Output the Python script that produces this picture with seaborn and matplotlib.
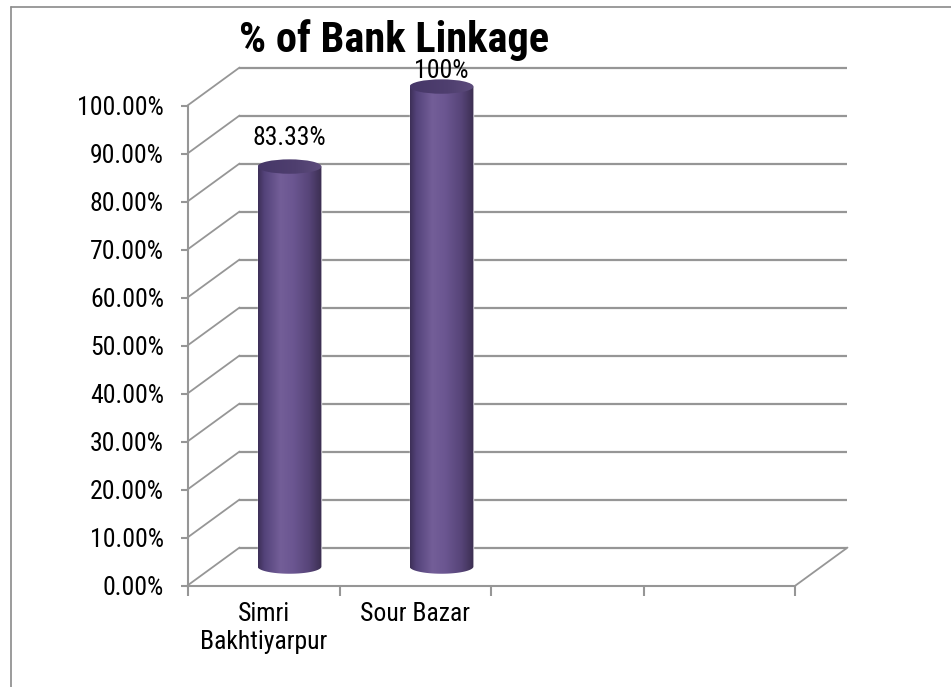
import numpy as np
import pandas as pd
import matplotlib
matplotlib.use("Agg")
import matplotlib.pyplot as plt
from matplotlib import font_manager
from matplotlib.patches import Ellipse, PathPatch
from matplotlib.path import Path
from matplotlib.lines import Line2D
from matplotlib.colors import LinearSegmentedColormap
import seaborn as sns

# ---- data -------------------------------------------------------------
categories = ["Simri\nBakhtiyarpur", "Sour Bazar"]
linkage_pct = [83.33, 100.0]
value_labels = ["83.33%", "100%"]
y_ticks = [0, 10, 20, 30, 40, 50, 60, 70, 80, 90, 100]
y_tick_labels = [f"{t:.2f}%" for t in y_ticks]
chart_title = "% of Bank Linkage"

# ---- layout / style ---------------------------------------------------
N_SLOTS = 4          # category slots on the floor
DEPTH_X = 0.342      # depth offset of the back wall, category units
DEPTH_Y = 7.9        # depth offset of the back wall, percent units
BAR_W = 0.42         # cylinder diameter, category units
CAP_H = 3.0          # cylinder cap ellipse height, percent units
GRID = "#969696"
FRAME = "#8a8a8a"
FS = 18.5

sns.set_theme(style="white")
installed = {f.name for f in font_manager.fontManager.ttflist}
narrow = next((f for f in ["Liberation Sans Narrow", "Roboto Condensed",
                           "Liberation Sans"] if f in installed), "DejaVu Sans")
plt.rcParams["font.family"] = [narrow, "DejaVu Sans"]

W, H = 951, 687
fig = plt.figure(figsize=(W / 100, H / 100), dpi=100)
fig.patch.set_facecolor("white")

# chart-area border (top and left edges visible)
fig.add_artist(Line2D([10.5 / W, 10.5 / W], [0, 1 - 7 / H], color=FRAME, lw=1.2))
fig.add_artist(Line2D([10.5 / W, 1], [1 - 7 / H, 1 - 7 / H], color=FRAME, lw=1.2))

px_cat, px_pct = 152.0, 4.8
x0_px, y0_px = 187.5, 585.5
ax = fig.add_axes([x0_px / W, (H - y0_px) / H,
                   px_cat * (N_SLOTS + DEPTH_X) / W,
                   px_pct * (100 + DEPTH_Y) / H])
ax.patch.set_alpha(0)

df = pd.DataFrame({"site": categories, "pct": linkage_pct})
sns.barplot(data=df, x="site", y="pct", order=categories, ax=ax,
            width=BAR_W, color="#6a5590", saturation=1, zorder=3)

xmin, xmax = -0.5, N_SLOTS - 0.5

# back wall gridlines and left-wall diagonals
for t in y_ticks:
    ax.plot([xmin + DEPTH_X, xmax + DEPTH_X], [t + DEPTH_Y, t + DEPTH_Y],
            color=GRID, lw=1.6, solid_capstyle="butt", zorder=1, clip_on=False)
    ax.plot([xmin, xmin + DEPTH_X], [t, t + DEPTH_Y],
            color=GRID, lw=1.3, zorder=1, clip_on=False)
# right floor edge
ax.plot([xmax, xmax + DEPTH_X], [0, DEPTH_Y], color=GRID, lw=1.3, zorder=1, clip_on=False)

body_cmap = LinearSegmentedColormap.from_list("body", [
    (0.00, "#3d2f57"), (0.10, "#54437a"), (0.35, "#735e98"),
    (0.55, "#6b5691"), (0.80, "#574579"), (0.93, "#45365f"), (1.00, "#3b2e50")])
cap_cmap = LinearSegmentedColormap.from_list("cap", [
    (0.0, "#463768"), (0.6, "#4f3f6f"), (1.0, "#5d4c7c")])
grad = np.linspace(0, 1, 256)[None, :]

for bar in list(ax.patches):
    bx, bw, bh = bar.get_x(), bar.get_width(), bar.get_height()
    # move the bar into the middle of the floor depth
    bar.set_x(bx + DEPTH_X / 2)
    bar.set_y(DEPTH_Y / 2)
    x0, x1 = bar.get_x(), bar.get_x() + bw
    xc = (x0 + x1) / 2
    y_bot, y_top = DEPTH_Y / 2, DEPTH_Y / 2 + bh
    # body outline: straight sides, rounded bottom
    th = np.linspace(np.pi, 2 * np.pi, 60)
    arc = np.column_stack([xc + bw / 2 * np.cos(th), y_bot + CAP_H / 2 * np.sin(th)])
    verts = np.vstack([[x0, y_top], arc, [x1, y_top], [x0, y_top]])
    codes = [Path.MOVETO] + [Path.LINETO] * (len(verts) - 2) + [Path.CLOSEPOLY]
    body = PathPatch(Path(verts, codes), transform=ax.transData,
                     facecolor="none", edgecolor="none")
    ax.add_patch(body)
    im = ax.imshow(grad, cmap=body_cmap, aspect="auto", zorder=4,
                   extent=[x0, x1, y_bot - CAP_H, y_top], interpolation="bilinear")
    im.set_clip_path(body)
    cap = Ellipse((xc, y_top), bw, CAP_H, facecolor="none", edgecolor="none",
                  transform=ax.transData)
    ax.add_patch(cap)
    im2 = ax.imshow(grad, cmap=cap_cmap, aspect="auto", zorder=5,
                    extent=[x0, x1, y_top - CAP_H, y_top + CAP_H], interpolation="bilinear")
    im2.set_clip_path(cap)

# value labels above each cylinder, kept inside the plot box
for bar, lab in zip(ax.patches, value_labels):
    xc = bar.get_x() + bar.get_width() / 2
    ytxt = min(bar.get_y() + bar.get_height() + 6.0, 100 + DEPTH_Y - 0.7)
    ax.text(xc, ytxt, lab, ha="center", va="center", fontsize=FS,
            color="black", zorder=6)

ax.set_xlim(xmin, xmax + DEPTH_X)
ax.set_ylim(0, 100 + DEPTH_Y)
ax.set_xlabel("")
ax.set_ylabel("")

for s in ["top", "right"]:
    ax.spines[s].set_visible(False)
ax.spines["left"].set_bounds(0, 100)
ax.spines["bottom"].set_bounds(xmin, xmax)
for s in ["left", "bottom"]:
    ax.spines[s].set_color(GRID)
    ax.spines[s].set_linewidth(1.5)
    ax.spines[s].set_zorder(2)

ax.set_yticks(y_ticks, y_tick_labels)
ax.set_xticks(np.arange(N_SLOTS + 1) - 0.5, [""] * (N_SLOTS + 1))
ax.set_xticks(range(len(categories)), categories, minor=True)
ax.tick_params(axis="y", which="major", left=True, length=5, width=1.5,
               color=GRID, direction="out", pad=12, labelsize=FS, labelcolor="black")
ax.tick_params(axis="x", which="major", bottom=True, length=7, width=1.5,
               color=GRID, direction="out")
ax.tick_params(axis="x", which="minor", bottom=True, length=0, pad=12,
               labelsize=FS, labelcolor="black")

fig.text(394 / W, 1 - 52 / H, chart_title, ha="center", va="baseline",
         fontsize=30.5, fontweight="bold", color="black")

fig.savefig("out.png", dpi=100)
